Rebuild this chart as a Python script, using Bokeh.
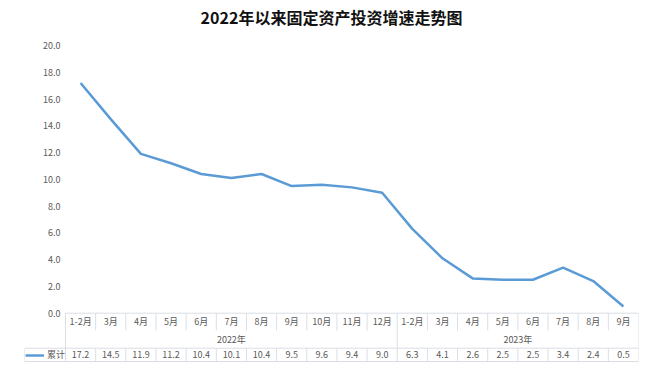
import numpy as np
from bokeh.plotting import figure
from bokeh.models import Range1d, Legend, LegendItem
from bokeh.core.properties import value
from bokeh.embed import file_html
from bokeh.resources import INLINE

# ---- data ----
months_2022 = ["1-2月", "3月", "4月", "5月", "6月", "7月", "8月", "9月", "10月", "11月", "12月"]
months_2023 = ["1-2月", "3月", "4月", "5月", "6月", "7月", "8月", "9月"]
years = ["2022年", "2023年"]
values = [17.2, 14.5, 11.9, 11.2, 10.4, 10.1, 10.4, 9.5, 9.6, 9.4, 9.0,
          6.3, 4.1, 2.6, 2.5, 2.5, 3.4, 2.4, 0.5]
series_name = "累计"
y_ticks = [0, 2, 4, 6, 8, 10, 12, 14, 16, 18, 20]
title_text = "2022年以来固定资产投资增速走势图"

# ---- layout constants (data units of the table rows) ----
ROW_MONTH_BOTTOM = -1.29
ROW_YEAR_BOTTOM = -2.615
ROW_DATA_BOTTOM = -3.61
Y_MONTH = -0.64
Y_YEAR = -1.97
Y_DATA = -3.12
X_LEFT = -1.36

FONT = value("'Noto Sans CJK SC', 'Noto Sans', sans-serif")
LINE_BLUE = "#5B9BD5"
GRID_C = "#dadee5"
TXT_C = "#595959"

months = months_2022 + months_2023
n = len(months)
xs = np.arange(n) + 0.5

p = figure(width=650, height=381, output_backend="svg", toolbar_location=None,
           x_range=Range1d(X_LEFT, n), y_range=Range1d(-3.683, 21.12),
           x_axis_location=None, y_axis_location=None,
           min_border_left=24, min_border_right=12, min_border_top=30, min_border_bottom=19)
p.outline_line_color = None
p.xgrid.visible = False
p.ygrid.visible = False
p.background_fill_color = "white"
p.border_fill_color = "white"

p.title.text = title_text
p.title.align = "center"
p.title.text_font = "Noto Sans CJK SC"
p.title.text_font_size = "16px"
p.title.text_font_style = "bold"
p.title.text_color = "#111111"
p.title.standoff = 4

# y tick labels
p.text(x=[-0.17] * len(y_ticks), y=y_ticks, text=[f"{t:.1f}" for t in y_ticks],
       text_align="right", text_baseline="middle", text_font=FONT,
       text_font_size="9px", text_color=TXT_C)

# ---- table grid ----
b = np.arange(n + 1)
# horizontal lines
p.segment(x0=[0, X_LEFT, X_LEFT], x1=[n, n, n],
          y0=[0, ROW_YEAR_BOTTOM, ROW_DATA_BOTTOM], y1=[0, ROW_YEAR_BOTTOM, ROW_DATA_BOTTOM],
          line_color=GRID_C, line_width=1)
# month row verticals
p.segment(x0=b, x1=b, y0=[0] * len(b), y1=[ROW_MONTH_BOTTOM] * len(b),
          line_color=GRID_C, line_width=1)
# year row verticals (group borders)
gb = [0, len(months_2022), n]
p.segment(x0=gb, x1=gb, y0=[ROW_MONTH_BOTTOM] * 3, y1=[ROW_YEAR_BOTTOM] * 3,
          line_color=GRID_C, line_width=1)
# data row verticals
db = [X_LEFT] + list(b)
p.segment(x0=db, x1=db, y0=[ROW_YEAR_BOTTOM] * len(db), y1=[ROW_DATA_BOTTOM] * len(db),
          line_color=GRID_C, line_width=1)

# month labels
p.text(x=xs, y=[Y_MONTH] * n, text=months, text_align="center", text_baseline="middle",
       text_font=FONT, text_font_size="9px", text_color=TXT_C)
# year labels
yx = [len(months_2022) / 2, len(months_2022) + len(months_2023) / 2]
p.text(x=yx, y=[Y_YEAR] * 2, text=years, text_align="center", text_baseline="middle",
       text_font=FONT, text_font_size="9px", text_color=TXT_C)
# data labels
p.text(x=xs, y=[Y_DATA] * n, text=[f"{v:.1f}" for v in values], text_align="center",
       text_baseline="middle", text_font=FONT, text_font_size="9px", text_color=TXT_C)

# ---- line ----
r = p.line(x=xs, y=values, line_color=LINE_BLUE, line_width=2.5, line_join="round")

legend = Legend(items=[LegendItem(label=series_name, renderers=[r])],
                location=(1, 1), orientation="horizontal",
                glyph_width=19, glyph_height=10, label_height=10, label_standoff=3,
                padding=0, margin=0, spacing=0,
                border_line_color=None, background_fill_alpha=0,
                label_text_font="Noto Sans CJK SC", label_text_font_size="9px",
                label_text_color=TXT_C)
p.add_layout(legend, "center")

open("out.html", "w").write(file_html(p, INLINE))
